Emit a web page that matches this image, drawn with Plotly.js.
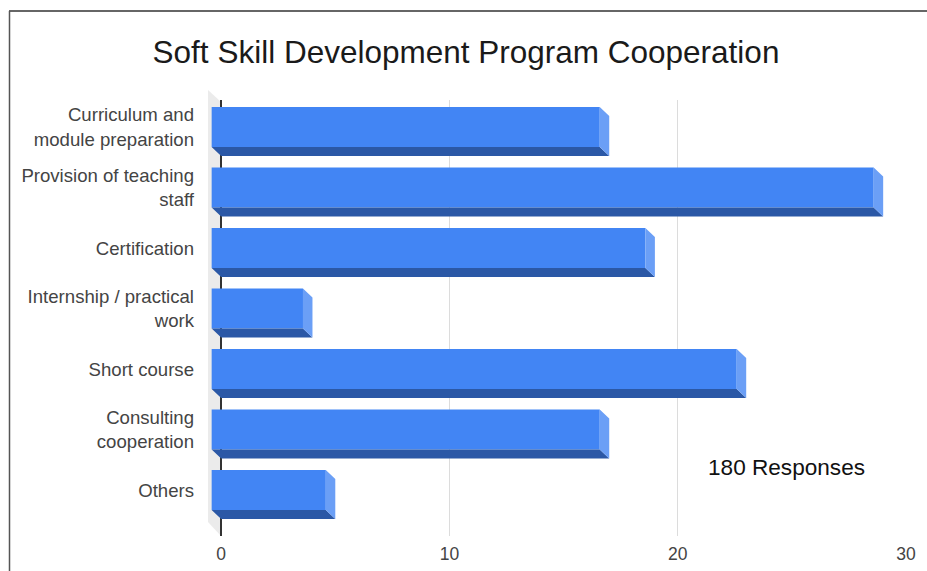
<!DOCTYPE html>
<html>
<head>
<meta charset="utf-8">
<script src="https://cdn.plot.ly/plotly-3.0.1.min.js"></script>
<style>
  html, body { margin: 0; padding: 0; background: #fff; }
  #chart { width: 927px; height: 571px; }
</style>
</head>
<body>
<div id="chart"></div>
<script>
// data
var categories = [
    'Curriculum and<br>module preparation',
    'Provision of teaching<br>staff',
    'Certification',
    'Internship / practical<br>work',
    'Short course',
    'Consulting<br>cooperation',
    'Others'
];
var responses = [17, 29, 19, 4, 23, 17, 5];
var xTicks = [0, 10, 20, 30];

// plot box in pixels, used for the paper-ref decorations
var L = 207, R = 906, T = 100, B = 536;
function px(x) { return (x - L) / (R - L); }
function py(y) { return (B - y) / (B - T); }

// fake 3d depth
var h = 0.33;      // half bar thickness (category units)
var dx = 0.416;    // depth along x (value units)
var dy = 0.149;    // depth along y (category units)

var idx = categories.map(function (c, i) { return i; });

var bottomX = [], bottomY = [], sideX = [], sideY = [];
responses.forEach(function (v, i) {
    bottomX.push(-dx, v - dx, v, 0, -dx, null);
    bottomY.push(i + h, i + h, i + h + dy, i + h + dy, i + h, null);
    sideX.push(v - dx, v, v, v - dx, v - dx, null);
    sideY.push(i - h, i - h + dy, i + h + dy, i + h, i - h, null);
});

var data = [
    {
        x: bottomX, y: bottomY, type: 'scatter', mode: 'lines',
        fill: 'toself', fillcolor: '#2b58a6', line: { width: 0 },
        hoverinfo: 'skip', showlegend: false
    },
    {
        x: sideX, y: sideY, type: 'scatter', mode: 'lines',
        fill: 'toself', fillcolor: '#6b9ff6', line: { width: 0 },
        hoverinfo: 'skip', showlegend: false
    },
    {
        x: responses, y: idx, base: -dx, type: 'bar', orientation: 'h',
        width: 2 * h,
        marker: { color: '#4285f4', line: { width: 0 } },
        hoverinfo: 'skip', showlegend: false
    }
];

var layout = {
    width: 927,
    height: 571,
    margin: { l: L, r: 927 - R, t: T, b: 571 - B, pad: 0 },
    paper_bgcolor: '#fff',
    plot_bgcolor: 'rgba(0,0,0,0)',
    font: { family: 'Liberation Sans, Arial, sans-serif', color: '#444' },
    title: {
        text: 'Soft Skill Development Program Cooperation',
        font: { size: 31.5, color: '#1a1a1a' },
        x: 466 / 927, xanchor: 'center',
        y: 1 - 52 / 571, yanchor: 'middle'
    },
    showlegend: false,
    hovermode: false,
    xaxis: {
        range: [-0.62, 30],
        tickvals: xTicks,
        ticktext: xTicks.map(String),
        tickfont: { size: 17.5, color: '#444' },
        ticklabelstandoff: 5,
        showgrid: true, gridcolor: '#dcdcdc', gridwidth: 1.5,
        zeroline: true, zerolinecolor: '#333', zerolinewidth: 1.5,
        showline: false, ticks: '',
        fixedrange: true
    },
    yaxis: {
        range: [(B - 127) / 60.5, (T - 127) / 60.5],
        tickvals: idx,
        ticktext: categories,
        tickfont: { size: 18.6, color: '#444' },
        ticklabelstandoff: 12,
        showgrid: false, zeroline: false, showline: false, ticks: '',
        fixedrange: true
    },
    shapes: [
        // grey side wall
        {
            type: 'path', xref: 'paper', yref: 'paper', layer: 'below',
            path: 'M' + px(208) + ',' + py(90) + ' L' + px(221) + ',' + py(102) +
                  ' L' + px(221) + ',' + py(536) + ' L' + px(208) + ',' + py(522) + ' Z',
            fillcolor: '#ebebeb', line: { width: 0 }
        },
        // frame lines of the screenshot
        {
            type: 'line', xref: 'paper', yref: 'paper',
            x0: px(9), x1: px(927), y0: py(11), y1: py(11),
            line: { color: '#666', width: 2 }
        },
        {
            type: 'line', xref: 'paper', yref: 'paper',
            x0: px(9.5), x1: px(9.5), y0: py(11), y1: py(571),
            line: { color: '#555', width: 1.5 }
        }
    ],
    annotations: [
        {
            text: '180 Responses', xref: 'paper', yref: 'paper',
            x: px(786), y: py(467), xanchor: 'center', yanchor: 'middle',
            showarrow: false, font: { size: 22.6, color: '#111' }
        }
    ]
};

Plotly.newPlot('chart', data, layout, { displayModeBar: false, staticPlot: true });
</script>
</body>
</html>
